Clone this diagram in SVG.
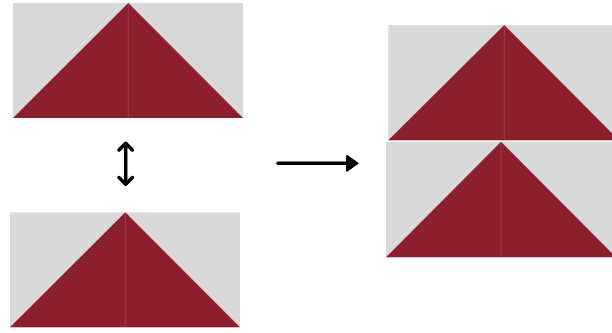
<svg xmlns="http://www.w3.org/2000/svg" width="612" height="333" viewBox="0 0 612 333">
<style>
.bg{fill:#d9d9d9}
.tri{fill:#8c1f2e}
.mid{stroke:#a8404f;stroke-width:0.8}
.conn{stroke:#000;stroke-width:3.5;fill:none;stroke-linecap:round;stroke-linejoin:round}
</style>
<rect width="612" height="333" fill="#fff"/>
<g id="block-top-left">
<rect class="bg" x="13" y="3" width="230" height="115"/>
<polygon class="tri" points="13,118 128.3,3 243,118"/>
<line class="mid" x1="128.3" y1="4" x2="128.3" y2="118"/>
</g>
<g id="block-bottom-left">
<rect class="bg" x="10" y="212.3" width="230" height="115"/>
<polygon class="tri" points="10,327.3 125.3,212.3 240,327.3"/>
<line class="mid" x1="125.3" y1="213" x2="125.3" y2="327.3"/>
</g>
<g id="block-right-top">
<rect class="bg" x="388.3" y="25" width="230" height="115.3"/>
<polygon class="tri" points="388.3,140.3 504.3,25 619,140.3"/>
<line class="mid" x1="504.3" y1="26" x2="504.3" y2="140.3"/>
</g>
<g id="block-right-bottom">
<rect class="bg" x="386" y="141.7" width="230" height="115.6"/>
<polygon class="tri" points="386,257.3 501,141.7 616,257.3"/>
<line class="mid" x1="501" y1="142.5" x2="501" y2="257.3"/>
</g>
<g id="connectors">
<g id="swap-arrow">
<line class="conn" x1="125.7" y1="143.5" x2="125.7" y2="183.5"/>
<polyline class="conn" points="119,150 125.7,143.3 132.4,150"/>
<polyline class="conn" points="119,177.5 125.7,184.2 132.4,177.5"/>
</g>
<g id="combine-arrow">
<line class="conn" x1="278" y1="163.3" x2="350" y2="163.3"/>
<polygon points="347,156 357.5,163.3 347,170.6" fill="#000" stroke="#000" stroke-width="2" stroke-linejoin="round"/>
</g>
</g>
</svg>
